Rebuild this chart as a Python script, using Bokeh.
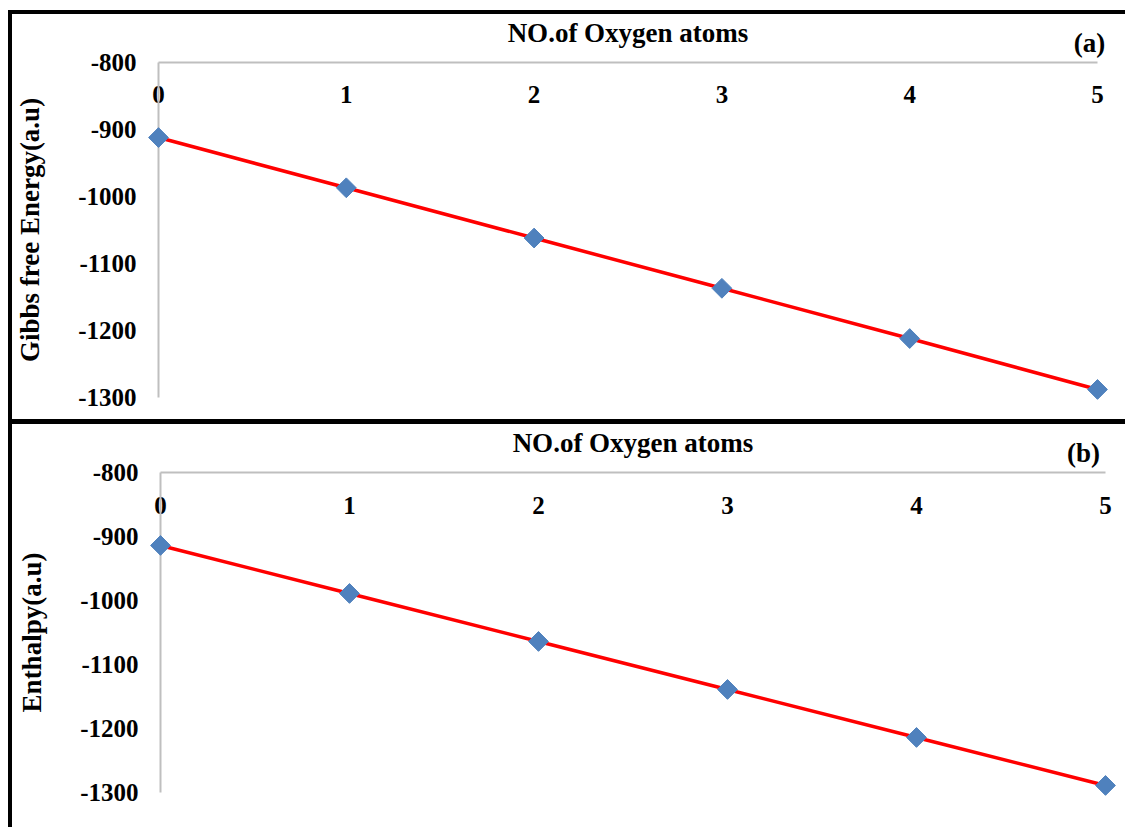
from bokeh.plotting import figure
from bokeh.models import Range1d, FixedTicker, ColumnDataSource
from bokeh.core.properties import value
from bokeh.embed import file_html
from bokeh.resources import INLINE

# ---- data ----
n_oxygen = [0, 1, 2, 3, 4, 5]
gibbs = [-912, -987, -1062, -1137, -1212, -1288]
enthalpy = [-914, -989, -1064, -1139, -1214, -1289]
x_ticks = [0, 1, 2, 3, 4, 5]
y_ticks = [-1300, -1200, -1100, -1000, -900, -800]
x_title = "NO.of Oxygen atoms"
y_titles = ["Gibbs free Energy(a.u)", "Enthalpy(a.u)"]
panel_tags = ["(a)", "(b)"]

FONT = "Liberation Serif"
AXIS_GREY = "#BFBFBF"
LINE_RED = "#FF0000"
MARK_BLUE = "#4F81BD"


def make_panel(ylabel, yvals, tag, height, mb_left, mb_right, mb_bottom, styles, margin,
               tag_dx, label_standoff):
    src = ColumnDataSource(dict(x=n_oxygen, y=yvals))
    p = figure(width=1117, height=height, output_backend="svg", toolbar_location=None,
               x_range=Range1d(0, 5), y_range=Range1d(-1300, -800),
               x_axis_location="above",
               min_border_left=mb_left, min_border_right=mb_right,
               min_border_top=48, min_border_bottom=mb_bottom)
    p.styles = styles
    p.margin = margin
    p.outline_line_color = None
    p.xgrid.visible = False
    p.ygrid.visible = False
    p.background_fill_color = "white"
    p.border_fill_color = "white"

    # x axis (top), tick labels hang just below the axis line
    xa = p.xaxis[0]
    xa.ticker = FixedTicker(ticks=x_ticks)
    xa.axis_line_color = AXIS_GREY
    xa.axis_line_width = 2
    xa.major_tick_line_color = None
    xa.minor_tick_line_color = None
    xa.major_tick_out = 0
    xa.major_tick_in = 0
    xa.major_label_standoff = label_standoff
    xa.major_label_text_font = FONT
    xa.major_label_text_font_style = "bold"
    xa.major_label_text_font_size = "25px"
    xa.major_label_text_color = "black"
    xa.axis_label = x_title
    xa.axis_label_text_font = FONT
    xa.axis_label_text_font_style = "bold"
    xa.axis_label_text_font_size = "27px"
    xa.axis_label_text_color = "black"
    xa.axis_label_standoff = 39 - (label_standoff + 44)

    # y axis
    ya = p.yaxis[0]
    ya.ticker = FixedTicker(ticks=y_ticks)
    ya.major_label_overrides = {t: str(t) for t in y_ticks}
    ya.axis_line_color = AXIS_GREY
    ya.axis_line_width = 2
    ya.major_tick_line_color = None
    ya.minor_tick_line_color = None
    ya.major_tick_out = 0
    ya.major_tick_in = 0
    ya.major_label_standoff = 22
    ya.major_label_text_font = FONT
    ya.major_label_text_font_style = "bold"
    ya.major_label_text_font_size = "25px"
    ya.major_label_text_color = "black"
    ya.axis_label = ylabel
    ya.axis_label_text_font = FONT
    ya.axis_label_text_font_style = "bold"
    ya.axis_label_text_font_size = "27px"
    ya.axis_label_text_color = "black"
    ya.axis_label_standoff = 30

    p.line("x", "y", source=src, line_color=LINE_RED, line_width=3.5, level="overlay")
    p.scatter("x", "y", source=src, marker="square", angle=0.785398, size=14,
              fill_color=MARK_BLUE, line_color=MARK_BLUE, level="overlay")

    # panel tag, anchored at the top-right corner of the axes
    p.text(x=[max(x_ticks)], y=[max(y_ticks)], text=[tag], x_offset=tag_dx, y_offset=-20,
           text_align="center", text_baseline="middle",
           text_font=value(FONT), text_font_style="bold", text_font_size="27px",
           text_color="black", level="overlay")
    return p


p1 = make_panel(y_titles[0], gibbs, panel_tags[0], 414, 146, 32, 31,
                {"border-top": "4px solid black", "border-left": "4px solid black",
                 "border-bottom": "5px solid black"}, (10, 0, 0, 8), -8, -40)
p2 = make_panel(y_titles[1], enthalpy, panel_tags[1], 403, 148, 24, 35,
                {"border-left": "4px solid black"}, (0, 0, 0, 8), -22, -41)

open("out.html", "w").write(file_html([p1, p2], INLINE))
